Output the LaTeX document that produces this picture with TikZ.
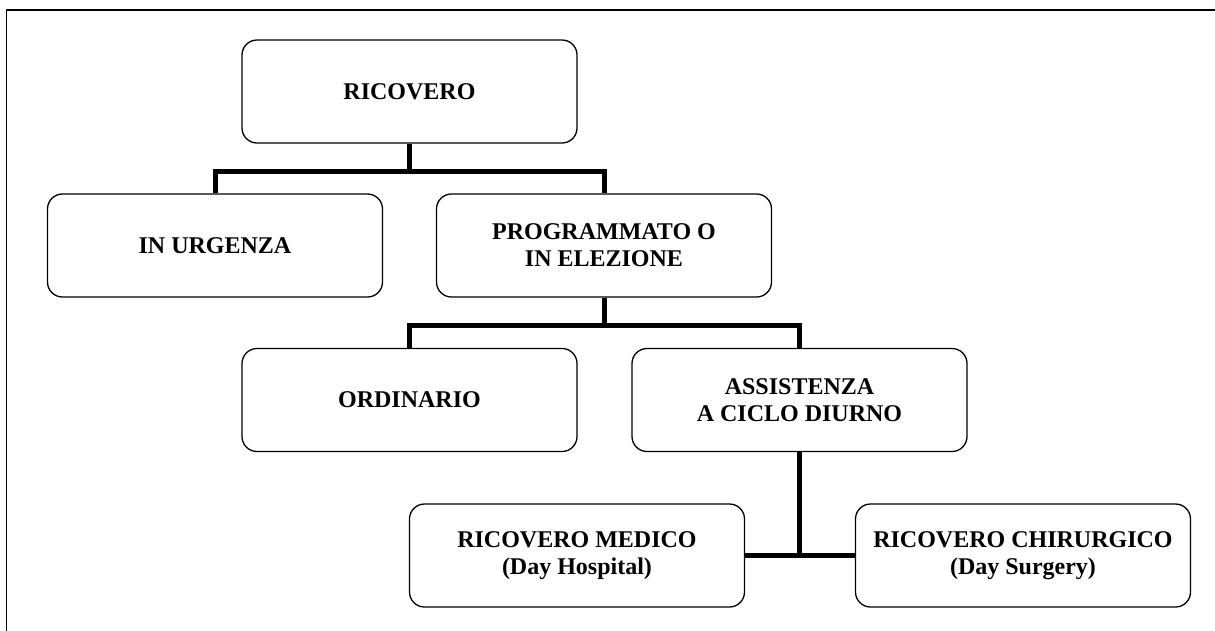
\documentclass[tikz,border=0pt]{standalone}
\usepackage{fontspec}
\setmainfont{Liberation Serif}
\begin{document}
\begin{tikzpicture}[x=1pt,y=-1pt,font=\fontsize{24}{27}\selectfont\bfseries,
		box/.style={draw,line width=1.3pt,rounded corners=15pt,minimum width=335pt,minimum height=103pt,align=center,inner sep=0pt},
		link/.style={line width=5pt}]
	\useasboundingbox (0,0) rectangle (1215,630);
	\draw[line width=1.7pt] (6.5,640)--(6.5,10)--(1225,10);
	\node[box] (ricovero) at (409.5,91.5) {RICOVERO};
	\node[box] (urgenza) at (215,245.5) {IN URGENZA};
	\node[box] (programmato) at (604,245.5) {PROGRAMMATO O\\IN ELEZIONE};
	\node[box] (ordinario) at (409.5,400) {ORDINARIO};
	\node[box] (assistenza) at (799.5,400) {ASSISTENZA\\A CICLO DIURNO};
	\node[box] (medico) at (577,555.5) {RICOVERO MEDICO\\(Day Hospital)};
	\node[box] (chirurgico) at (1023,555.5) {RICOVERO CHIRURGICO\\(Day Surgery)};
	\draw[link] (ricovero.south) -- ++(0,28) -| (urgenza.north);
	\draw[link] (ricovero.south) -- ++(0,28) -| (programmato.north);
	\draw[link] (programmato.south) -- ++(0,28) -| (ordinario.north);
	\draw[link] (programmato.south) -- ++(0,28) -| (assistenza.north);
	\draw[link] (medico.east) -- (chirurgico.west);
	\draw[link] (assistenza.south) -- (assistenza.south |- medico.east);
\end{tikzpicture}
\end{document}
